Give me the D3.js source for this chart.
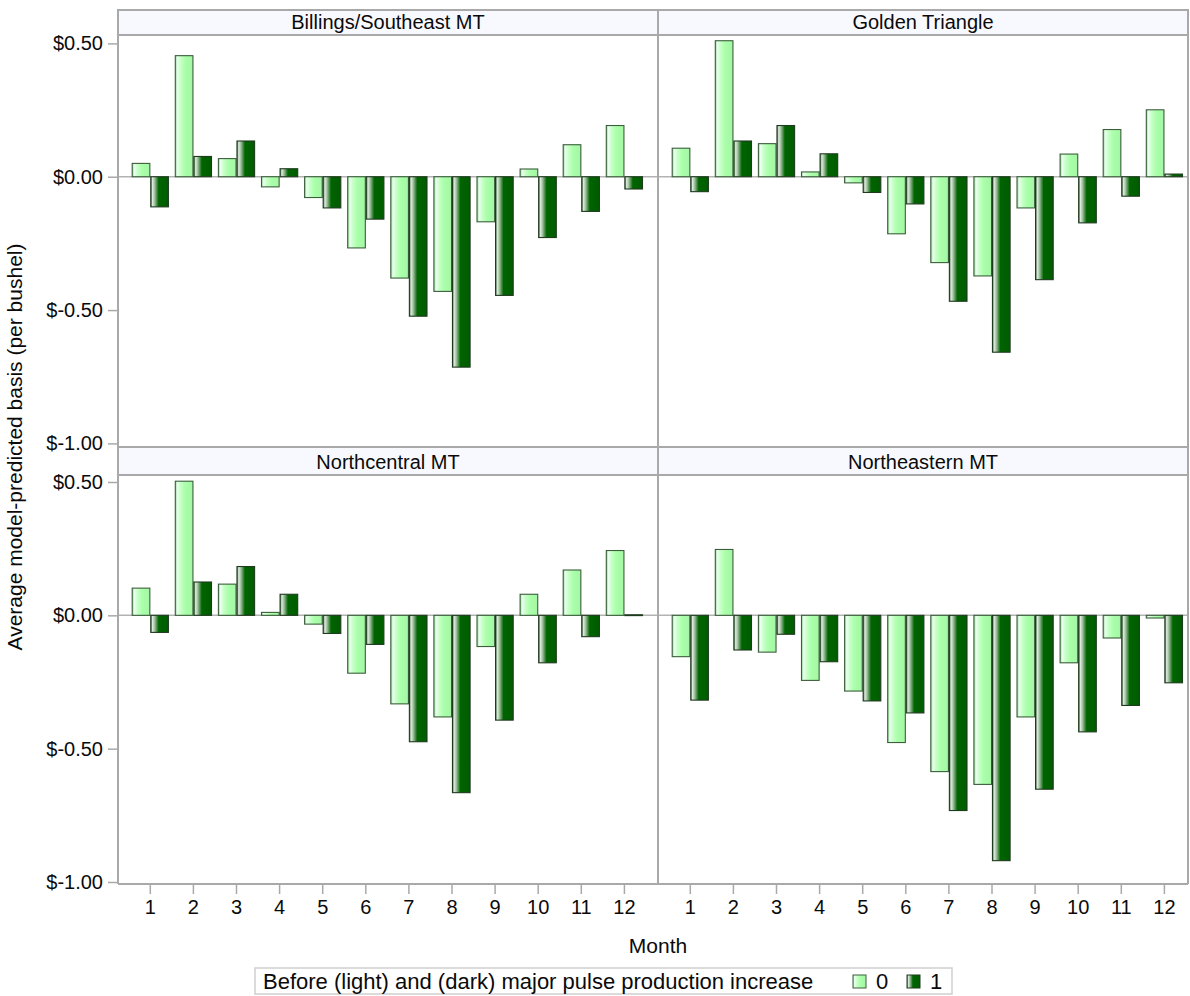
<!DOCTYPE html>
<html>
<head>
<meta charset="utf-8">
<script src="https://cdn.jsdelivr.net/npm/d3@7"></script>
<style>
  html, body { margin: 0; padding: 0; background: #fff; }
  svg { display: block; font-family: "Liberation Sans", Arial, "DejaVu Sans", sans-serif; }
</style>
</head>
<body>
<svg id="chart" width="1190" height="996"></svg>
<script>
// ---------- data ----------
const months = [1, 2, 3, 4, 5, 6, 7, 8, 9, 10, 11, 12];
const regions = ["Billings/Southeast MT", "Golden Triangle", "Northcentral MT", "Northeastern MT"];
const groups = ["0", "1"];
const yTicks = [0.5, 0, -0.5, -1];

const billings0 = [0.050, 0.454, 0.068, -0.038, -0.078, -0.267, -0.380, -0.430, -0.169, 0.029, 0.120, 0.192];
const billings1 = [-0.113, 0.076, 0.134, 0.030, -0.117, -0.159, -0.523, -0.714, -0.445, -0.228, -0.130, -0.046];
const golden0 = [0.107, 0.510, 0.124, 0.018, -0.023, -0.214, -0.322, -0.372, -0.117, 0.085, 0.177, 0.251];
const golden1 = [-0.056, 0.134, 0.192, 0.086, -0.059, -0.102, -0.467, -0.658, -0.386, -0.173, -0.073, 0.010];
const northcentral0 = [0.102, 0.503, 0.117, 0.011, -0.033, -0.217, -0.332, -0.381, -0.117, 0.079, 0.170, 0.243];
const northcentral1 = [-0.064, 0.125, 0.183, 0.079, -0.068, -0.109, -0.474, -0.665, -0.393, -0.178, -0.080, 0.002];
const northeastern0 = [-0.155, 0.247, -0.138, -0.244, -0.284, -0.477, -0.586, -0.634, -0.381, -0.178, -0.085, -0.010];
const northeastern1 = [-0.318, -0.130, -0.071, -0.174, -0.321, -0.366, -0.732, -0.920, -0.652, -0.437, -0.338, -0.253];

const seriesByRegion = [
  [billings0, billings1],
  [golden0, golden1],
  [northcentral0, northcentral1],
  [northeastern0, northeastern1]
];

// ---------- layout ----------
const L = 118, MID = 658, R = 1188;
const rows = [
  { headTop: 10, headBot: 35, plotBot: 447, yTopTick: 43.4, yBotTick: 443.4 },
  { headTop: 447, headBot: 475, plotBot: 884, yTopTick: 482, yBotTick: 882 }
];
const cols = [{ x0: L, x1: MID }, { x0: MID, x1: R }];
const step = 43.1;
const gridColor = "#a9a9a9";
const font = "'Liberation Sans', Arial, sans-serif";
const ink = "#0a0a0a";

const svg = d3.select("#chart");
const defs = svg.append("defs");

function grad(id, stops) {
  const g = defs.append("linearGradient").attr("id", id)
    .attr("x1", "0%").attr("x2", "100%").attr("y1", "0%").attr("y2", "0%");
  stops.forEach(s => g.append("stop").attr("offset", s[0]).attr("stop-color", s[1]));
}
grad("gLight", [["0%", "#8fd88f"], ["12%", "#eafff0"], ["30%", "#c8ffc8"], ["55%", "#aaffaa"], ["100%", "#a4f6a4"]]);
grad("gDark", [["0%", "#3f6f3f"], ["10%", "#dfeadf"], ["22%", "#9fbf9f"], ["45%", "#006400"], ["100%", "#005c00"]]);
const fills = { "0": "url(#gLight)", "1": "url(#gDark)" };
const strokes = { "0": "#3b5e3b", "1": "#1f3a1f" };

const fmt = d => "$" + (d < 0 ? "-" : "") + Math.abs(d).toFixed(2);

// header strips
rows.forEach(r => {
  svg.append("rect").attr("x", L).attr("y", r.headTop).attr("width", R - L).attr("height", r.headBot - r.headTop)
    .attr("fill", "#f8f9fe").attr("stroke", gridColor).attr("stroke-width", 2);
});

regions.forEach((name, i) => {
  const r = rows[Math.floor(i / 2)], c = cols[i % 2];
  const y = d3.scaleLinear().domain([-1, 0.5]).range([r.yBotTick, r.yTopTick]);
  const xStart = c.x0 + 10.75;
  const x0 = d3.scaleBand().domain(months).range([xStart, xStart + step * 12]).paddingInner(0.16).paddingOuter(0.08);
  const x1 = d3.scaleBand().domain(groups).range([0, x0.bandwidth()]).paddingInner(0.05);

  // header title
  svg.append("text").attr("x", (c.x0 + c.x1) / 2).attr("y", r.headBot - 6)
    .attr("text-anchor", "middle").attr("font-size", 20).attr("font-family", font).attr("fill", ink)
    .text(name);

  // zero reference line
  svg.append("line").attr("x1", c.x0).attr("x2", c.x1).attr("y1", y(0)).attr("y2", y(0))
    .attr("stroke", "#b3b3b3").attr("stroke-width", 1.5);

  const vals = seriesByRegion[i];
  const g = svg.append("g");
  months.forEach((m, mi) => {
    groups.forEach((grp, gi) => {
      const v = vals[gi][mi];
      g.append("rect")
        .attr("x", x0(m) + x1(grp))
        .attr("width", x1.bandwidth())
        .attr("y", y(Math.max(0, v)))
        .attr("height", Math.max(0.8, Math.abs(y(v) - y(0))))
        .attr("fill", fills[grp])
        .attr("stroke", strokes[grp])
        .attr("stroke-width", 1.1);
    });
  });

  // y axis on left column
  if (i % 2 === 0) {
    const ax = svg.append("g").attr("transform", `translate(${L},0)`)
      .call(d3.axisLeft(y).tickValues(yTicks).tickFormat(fmt).tickSize(10).tickPadding(5));
    ax.select(".domain").remove();
    ax.selectAll(".tick line").attr("stroke", gridColor).attr("stroke-width", 1.5);
    ax.selectAll(".tick text").attr("font-size", 20).attr("font-family", font).attr("fill", ink);
  }
  // x axis on bottom row
  if (i >= 2) {
    const ax = svg.append("g").attr("transform", `translate(0,${r.plotBot})`)
      .call(d3.axisBottom(x0).tickSize(10).tickPadding(6));
    ax.select(".domain").remove();
    ax.selectAll(".tick line").attr("stroke", gridColor).attr("stroke-width", 1.5);
    ax.selectAll(".tick text").attr("font-size", 20).attr("font-family", font).attr("fill", ink);
  }
});

// frame lines
svg.append("line").attr("x1", L).attr("x2", L).attr("y1", 10).attr("y2", 884).attr("stroke", gridColor).attr("stroke-width", 2);
svg.append("line").attr("x1", MID).attr("x2", MID).attr("y1", 10).attr("y2", 884).attr("stroke", gridColor).attr("stroke-width", 2);
svg.append("line").attr("x1", R).attr("x2", R).attr("y1", 10).attr("y2", 884).attr("stroke", gridColor).attr("stroke-width", 2);
svg.append("line").attr("x1", L).attr("x2", R).attr("y1", 884).attr("y2", 884).attr("stroke", gridColor).attr("stroke-width", 2);

// axis labels
svg.append("text").attr("transform", "translate(22,447) rotate(-90)")
  .attr("text-anchor", "middle").attr("font-size", 21).attr("font-family", font).attr("fill", ink)
  .text("Average model-predicted basis (per bushel)");
svg.append("text").attr("x", 658).attr("y", 953)
  .attr("text-anchor", "middle").attr("font-size", 21).attr("font-family", font).attr("fill", ink)
  .text("Month");

// legend
const lg = svg.append("g");
lg.append("rect").attr("x", 255).attr("y", 968).attr("width", 697).attr("height", 26)
  .attr("fill", "#fff").attr("stroke", "#cfcfcf").attr("stroke-width", 1.5);
lg.append("text").attr("x", 263).attr("y", 989).attr("font-size", 22).attr("font-family", font).attr("fill", ink)
  .text("Before (light) and (dark) major pulse production increase");
const legendX = { "0": 853, "1": 907 };
groups.forEach(grp => {
  lg.append("rect").attr("x", legendX[grp]).attr("y", 975).attr("width", 13).attr("height", 13)
    .attr("fill", fills[grp]).attr("stroke", strokes[grp]).attr("stroke-width", 1);
  lg.append("text").attr("x", legendX[grp] + 23).attr("y", 989).attr("font-size", 22).attr("font-family", font).attr("fill", ink)
    .text(grp);
});
</script>
</body>
</html>
